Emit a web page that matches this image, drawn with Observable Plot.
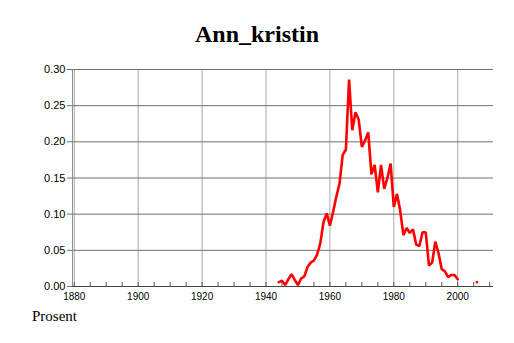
<!DOCTYPE html>
<html><head><meta charset="utf-8">
<script src="https://cdn.jsdelivr.net/npm/d3@7"></script>
<script src="https://cdn.jsdelivr.net/npm/@observablehq/plot@0.6"></script>
<style>
body{margin:0;background:#fff;}
#wrap{position:relative;width:514px;height:343px;overflow:hidden;background:#fff;}
#chart{position:absolute;left:0;top:0;}
#title{position:absolute;left:0;width:514px;top:22px;text-align:center;font:bold 24px "Liberation Serif","Times New Roman",serif;line-height:24px;color:#000;}
#caption{position:absolute;left:32px;top:309px;font:15px "Liberation Serif","Times New Roman",serif;line-height:15px;color:#000;}
</style></head>
<body>
<div id="wrap"><div id="chart"></div><div id="title">Ann_kristin</div><div id="caption">Prosent</div></div>
<script>
const years = [1944,1945,1946,1947,1948,1949,1950,1951,1952,1953,1954,1955,1956,1957,1958,1959,1960,1961,1962,1963,1964,1965,1966,1967,1968,1969,1970,1971,1972,1973,1974,1975,1976,1977,1978,1979,1980,1981,1982,1983,1984,1985,1986,1987,1988,1989,1990,1991,1992,1993,1994,1995,1996,1997,1998,1999,2000];
const values = [0.006,0.008,0.002,0.010,0.017,0.009,0.002,0.011,0.014,0.027,0.033,0.036,0.044,0.060,0.089,0.101,0.084,0.103,0.124,0.142,0.182,0.189,0.286,0.216,0.241,0.231,0.193,0.202,0.213,0.155,0.168,0.130,0.168,0.135,0.150,0.170,0.110,0.128,0.105,0.071,0.081,0.074,0.079,0.058,0.056,0.075,0.075,0.029,0.033,0.062,0.046,0.024,0.021,0.013,0.016,0.016,0.010];
const loneYears = [2006];
const loneValues = [0.006];
const yTicks = [0,0.05,0.10,0.15,0.20,0.25,0.30];
const xTicks = [1880,1900,1920,1940,1960,1980,2000];
const minorXTicks = d3.range(1880, 2011, 5);
const xDomain = [1879.44, 2011.2];
const yDomain = [0, 0.30];

const data = years.map((y,i)=>({year:y, value:values[i]}));
const lone = loneYears.map((y,i)=>({year:y, value:loneValues[i]}));

const chart = Plot.plot({
  width:514, height:343,
  marginLeft:72, marginRight:21, marginTop:69, marginBottom:57,
  style:{fontFamily:'"Liberation Sans",Arial,Helvetica,sans-serif', background:'transparent', color:'#000'},
  x:{domain:xDomain}, y:{domain:yDomain},
  marks:[
    Plot.gridX(xTicks,{stroke:"#a8a8a8", strokeOpacity:1}),
    Plot.gridY(yTicks,{stroke:"#707070", strokeOpacity:1}),
    Plot.axisY(yTicks,{tickFormat:d3.format(".2f"), tickSize:5, tickPadding:2, fontSize:11, stroke:"#707070", label:null}),
    Plot.axisX(xTicks,{tickFormat:d=>String(d), tickSize:0, tickPadding:6, fontSize:10, label:null}),
    Plot.axisX(minorXTicks,{text:null, tickSize:-4, stroke:"#555", label:null}),
    Plot.ruleX([xDomain[0]],{stroke:"#909090"}),
    Plot.ruleY([0],{stroke:"#444"}),
    Plot.line(data,{x:"year", y:"value", stroke:"#ff0000", strokeWidth:2.6, strokeLinejoin:"miter"}),
    Plot.dot(lone,{x:"year", y:"value", symbol:"square", r:1.4, fill:"#ff0000", stroke:null})
  ]
});
document.getElementById("chart").appendChild(chart);
</script>
</body></html>
